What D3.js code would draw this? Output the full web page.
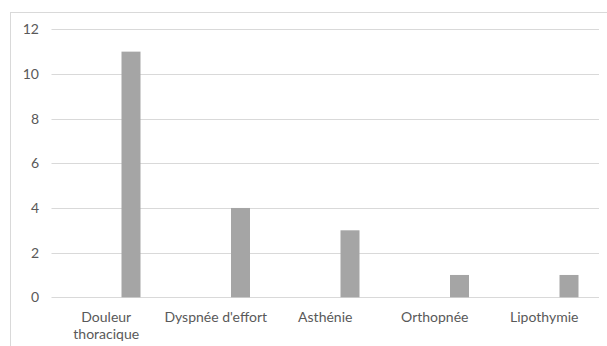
<!DOCTYPE html>
<html>
<head>
<meta charset="utf-8">
<script src="https://cdn.jsdelivr.net/npm/d3@7"></script>
<style>
  html, body { margin: 0; padding: 0; background: #fff; }
  svg { display: block; }
  text { font-family: Lato, "Open Sans", sans-serif; fill: #595959; }
</style>
</head>
<body>
<svg id="chart" width="607" height="346"></svg>
<script>
// Symptom counts
const categories = ["Douleur thoracique", "Dyspnée d'effort", "Asthénie", "Orthopnée", "Lipothymie"];
const categoryLines = [["Douleur", "thoracique"], ["Dyspnée d'effort"], ["Asthénie"], ["Orthopnée"], ["Lipothymie"]];
const counts = [11, 4, 3, 1, 1];
const yTicks = [0, 2, 4, 6, 8, 10, 12];

const svg = d3.select("#chart");
const W = 607, H = 346;
const plot = { left: 51.5, right: 599, top: 29.3, bottom: 297.3 };

// Outer chart frame (runs past the right and bottom edges)
svg.append("rect")
  .attr("x", 10.5).attr("y", 12.5)
  .attr("width", W + 10).attr("height", H + 10)
  .attr("fill", "#fff").attr("stroke", "#d9d9d9").attr("stroke-width", 1);

const x = d3.scaleBand().domain(categories).range([plot.left, plot.right]).padding(0);
// Two slots per category; the counts occupy the second one
const slot = d3.scaleBand().domain(["empty", "count"]).range([0, x.bandwidth()])
  .paddingInner(0.6162).paddingOuter(0.4141);
const y = d3.scaleLinear().domain([0, 12]).range([plot.bottom, plot.top]);

// Horizontal gridlines
svg.append("g")
  .selectAll("line").data(yTicks).join("line")
  .attr("x1", plot.left).attr("x2", plot.right)
  .attr("y1", d => Math.round(y(d)) + 0.5).attr("y2", d => Math.round(y(d)) + 0.5)
  .attr("stroke", "#d9d9d9").attr("stroke-width", 1);

// Y axis labels
const yAxis = d3.axisLeft(y).tickValues(yTicks).tickSize(0).tickPadding(0);
const gy = svg.append("g").attr("transform", `translate(39,0)`).call(yAxis);
gy.select(".domain").remove();
gy.selectAll("text").attr("font-size", 14).attr("font-family", "Lato, 'Open Sans', sans-serif").attr("fill", "#595959");

// Bars
svg.append("g")
  .selectAll("rect").data(categories).join("rect")
  .attr("x", (c) => x(c) + slot("count"))
  .attr("width", slot.bandwidth())
  .attr("y", (c, i) => y(counts[i]))
  .attr("height", (c, i) => y(0) - y(counts[i]))
  .attr("fill", "#a5a5a5");

// Category labels
const lbl = svg.append("g").selectAll("text").data(categories).join("text")
  .attr("x", c => x(c) + x.bandwidth() / 2)
  .attr("y", 322)
  .attr("text-anchor", "middle")
  .attr("font-size", 14);
lbl.each(function(c, i) {
  const t = d3.select(this);
  categoryLines[i].forEach((line, k) => {
    t.append("tspan")
      .attr("x", x(c) + x.bandwidth() / 2)
      .attr("dy", k === 0 ? 0 : 17)
      .text(line);
  });
});
</script>
</body>
</html>
